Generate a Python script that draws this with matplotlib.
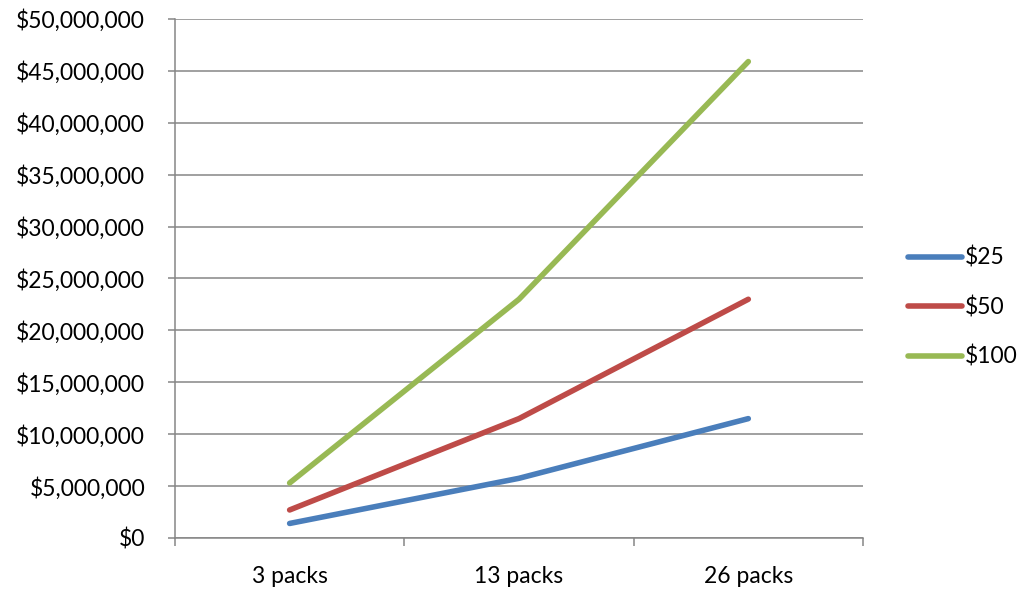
import numpy as np
import matplotlib.pyplot as plt
from matplotlib.ticker import FuncFormatter, FixedLocator

plt.rcParams['font.family'] = ['Lato', 'DejaVu Sans']

categorias = ['3 packs', '13 packs', '26 packs']
series = ['$25', '$50', '$100']
v25 = [1.4e6, 5.75e6, 11.5e6]
v50 = [2.7e6, 11.5e6, 23.0e6]
v100 = [5.3e6, 23.0e6, 45.9e6]
cores = ['#4A7EBB', '#BE4B48', '#98B954']

x = np.arange(len(categorias))

fig = plt.figure(figsize=(10.19, 5.94), dpi=100)
ax = fig.add_axes([0.1717, 0.0943, 0.6752, 0.8737])

for vals, nome, cor in zip([v25, v50, v100], series, cores):
    ax.plot(x, vals, color=cor, lw=4, solid_capstyle='round', label=nome)

ax.set_xlim(-0.5, 2.5)
ax.set_ylim(0, 50e6)
ax.set_yticks(np.arange(0, 50e6 + 1, 5e6))
ax.yaxis.set_major_formatter(FuncFormatter(lambda v, p: '${:,.0f}'.format(v)))
ax.grid(axis='y', color='#868686', lw=1.1)
ax.set_axisbelow(True)

# marcas entre categorias, rotulos no centro
ax.xaxis.set_major_locator(FixedLocator([-0.5, 0.5, 1.5, 2.5]))
ax.xaxis.set_minor_locator(FixedLocator(x))
ax.set_xticklabels([], minor=False)
ax.set_xticklabels(categorias, minor=True)
ax.tick_params(axis='x', which='major', length=5.8, width=1.1, color='#868686')
ax.tick_params(axis='x', which='minor', length=0, pad=20, labelsize=16.5)
ax.tick_params(axis='y', length=5, width=1.1, color='#868686', pad=16.5, labelsize=16.5)

for lado in ['top', 'right']:
    ax.spines[lado].set_visible(False)
for lado in ['left', 'bottom']:
    ax.spines[lado].set_color('#868686')
    ax.spines[lado].set_linewidth(1.1)

ax.legend(loc='center left', bbox_to_anchor=(1.035, 0.445), frameon=False,
          fontsize=16.5, handlelength=2.35, handletextpad=0.15, labelspacing=1.2)

plt.savefig('out.png', dpi=100)
